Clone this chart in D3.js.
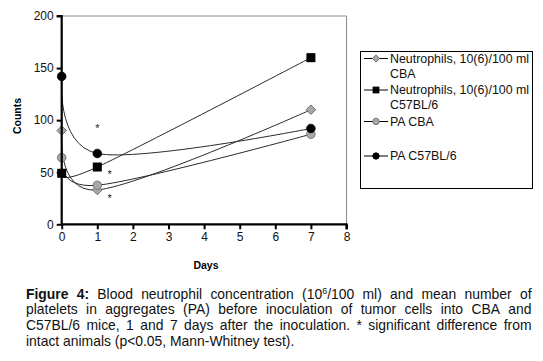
<!DOCTYPE html>
<html><head><meta charset="utf-8">
<script src="https://cdn.jsdelivr.net/npm/d3@7"></script>
<style>body{margin:0;background:#fff}svg{display:block}</style>
</head><body>
<svg id="c" width="543" height="361"></svg>
<script>
const days = [0, 1, 7];
const neutroCBA = [90, 33, 110];
const neutroC57 = [49, 55, 160];
const paCBA = [64, 37.5, 86.5];
const paC57 = [142, 68, 92];
const xTicks = [0, 1, 2, 3, 4, 5, 6, 7, 8];
const yTicks = [0, 50, 100, 150, 200];
const seriesNames = ["Neutrophils, 10(6)/100 ml|CBA", "Neutrophils, 10(6)/100 ml|C57BL/6", "PA CBA", "PA C57BL/6"];
const stars = [[1, 94], [1.35, 50], [1.35, 27.5]];
const xTitle = "Days", yTitle = "Counts";
const captionLines = [
  "**Figure 4:** Blood neutrophil concentration (10^6/100 ml) and mean number of",
  "platelets in aggregates (PA) before inoculation of tumor cells into CBA and",
  "C57BL/6 mice, 1 and 7 days after the inoculation. * significant difference from",
  "intact animals (p<0.05, Mann-Whitney test)."
];

const svg = d3.select("#c");
const FONT = "'Liberation Sans', Arial, sans-serif";
const x = d3.scaleLinear().domain([0, 8]).range([61.7, 346.5]);
const y = d3.scaleLinear().domain([0, 200]).range([224.3, 16]);

svg.append("path").attr("d", `M${x(0)},${y(200)}H${x(8)}V${y(0)}`)
  .attr("fill", "none").attr("stroke", "#8a8a8a").attr("stroke-width", 1);

const styles = [
  {vals: neutroCBA, shape: "diamond", fill: "#a8a8a8", stroke: "#555"},
  {vals: neutroC57, shape: "square", fill: "#000", stroke: "#000"},
  {vals: paCBA, shape: "circle", fill: "#a8a8a8", stroke: "#666"},
  {vals: paC57, shape: "circle", fill: "#000", stroke: "#000"}
];
const line = d3.line().x(d => x(d[0])).y(d => y(d[1])).curve(d3.curveCardinal.tension(0));
styles.forEach(s => {
  svg.append("path").datum(days.map((d, i) => [d, s.vals[i]]))
    .attr("d", line).attr("fill", "none").attr("stroke", "#2a2a2a").attr("stroke-width", 1);
});
function marker(g, shape, fill, stroke, cx, cy, k) {
  k = k || 1;
  if (shape === "circle") g.append("circle").attr("cx", cx).attr("cy", cy).attr("r", 4.3 * k).attr("fill", fill).attr("stroke", stroke).attr("stroke-width", 0.8);
  else if (shape === "square") g.append("rect").attr("x", cx - 4.5 * k).attr("y", cy - 4.5 * k).attr("width", 9 * k).attr("height", 9 * k).attr("fill", fill);
  else { const r = 4.8 * k; g.append("path").attr("d", `M${cx},${cy-r}L${cx+r},${cy}L${cx},${cy+r}L${cx-r},${cy}Z`).attr("fill", fill).attr("stroke", stroke).attr("stroke-width", 0.8); }
}
styles.forEach(s => {
  days.forEach((d, i) => marker(svg, s.shape, s.fill, s.stroke, x(d), y(s.vals[i])));
});

svg.selectAll("text.star").data(stars).join("text").attr("class", "star")
  .attr("x", d => x(d[0])).attr("y", d => y(d[1]) + 6).attr("text-anchor", "middle")
  .attr("font-family", FONT).attr("font-size", 11).attr("fill", "#222").text("*");

const yAxis = svg.append("g").attr("transform", `translate(${x(0)},0)`)
  .call(d3.axisLeft(y).tickValues(yTicks).tickSize(5).tickPadding(3));
const xAxis = svg.append("g").attr("transform", `translate(0,${y(0)})`)
  .call(d3.axisBottom(x).tickValues(xTicks).tickSize(5).tickPadding(3));
[yAxis, xAxis].forEach(a => {
  a.select(".domain").attr("stroke", "#000").attr("stroke-width", 2.2);
  a.selectAll(".tick line").attr("stroke", "#000").attr("stroke-width", 2);
  a.selectAll("text").attr("font-family", FONT).attr("font-size", 12).attr("fill", "#111");
});
yAxis.select(".domain").attr("d", `M-5,${y(200)}H0V${y(0)}`);
xAxis.select(".domain").attr("d", `M${x(0)},0H${x(8)}V5`);

svg.append("text").attr("transform", "translate(21,116) rotate(-90)").attr("text-anchor", "middle")
  .attr("font-family", FONT).attr("font-weight", "bold").attr("font-size", 10.5).text(yTitle);
svg.append("text").attr("x", 206).attr("y", 269).attr("text-anchor", "middle")
  .attr("font-family", FONT).attr("font-weight", "bold").attr("font-size", 10.5).text(xTitle);

const lg = svg.append("g");
lg.append("rect").attr("x", 360.5).attr("y", 51.5).attr("width", 172).attr("height", 137)
  .attr("fill", "#fff").attr("stroke", "#000").attr("stroke-width", 1);
const legY = [58.5, 90, 121.5, 156];
seriesNames.forEach((n, i) => {
  const s = styles[i], yy = legY[i];
  lg.append("line").attr("x1", 364).attr("x2", 388).attr("y1", yy).attr("y2", yy).attr("stroke", "#000");
  marker(lg, s.shape, s.fill, s.stroke, 376, yy, 0.75);
  n.split("|").forEach((t, j) => {
    lg.append("text").attr("x", 390).attr("y", yy + 4.3 + j * 15).attr("font-family", FONT)
      .attr("font-size", 12.4).attr("fill", "#111").text(t);
  });
});

const capLeft = 26, capRight = 531.5, capY0 = 298.5, capLH = 15.7, capFS = 13.9;
function parseWords(str) {
  const out = [];
  let bold = false;
  str.split(" ").forEach(w => {
    const segs = [];
    let rest = w;
    while (rest.length) {
      if (rest.startsWith("**")) { bold = !bold; rest = rest.slice(2); continue; }
      const iB = rest.indexOf("**"), iS = rest.indexOf("^");
      let cut = rest.length;
      if (iB >= 0) cut = Math.min(cut, iB);
      if (iS >= 0) cut = Math.min(cut, iS);
      if (cut > 0) { segs.push({t: rest.slice(0, cut), bold, sup: false}); rest = rest.slice(cut); continue; }
      if (rest[0] === "^") { segs.push({t: rest[1], bold, sup: true}); rest = rest.slice(2); }
    }
    out.push(segs);
  });
  return out;
}
const measure = svg.append("g");
function drawWord(g, segs, x0, yb) {
  const t = g.append("text").attr("x", x0).attr("y", yb).attr("font-family", FONT).attr("font-size", capFS).attr("fill", "#111");
  segs.forEach((s, k) => {
    const ts = t.append("tspan").text(s.t).attr("font-weight", s.bold ? "bold" : null);
    if (s.sup) ts.attr("font-size", capFS * 0.65).attr("dy", -5);
    else if (k > 0 && segs[k - 1].sup) ts.attr("dy", 5);
  });
  return t;
}
const spaceW = (() => { const t = measure.append("text").attr("font-family", FONT).attr("font-size", capFS).text("a a"); const t2 = measure.append("text").attr("font-family", FONT).attr("font-size", capFS).text("aa"); const w = t.node().getComputedTextLength() - t2.node().getComputedTextLength(); t.remove(); t2.remove(); return w; })();
const cg = svg.append("g");
captionLines.forEach((ln, li) => {
  const words = parseWords(ln);
  const widths = words.map(segs => { const t = drawWord(measure, segs, 0, 0); const w = t.node().getComputedTextLength(); t.remove(); return w; });
  const tot = d3.sum(widths);
  const last = li === captionLines.length - 1;
  const gap = last ? spaceW : (capRight - capLeft - tot) / (words.length - 1);
  let xx = capLeft;
  words.forEach((segs, i) => { drawWord(cg, segs, xx, capY0 + li * capLH); xx += widths[i] + gap; });
});
</script>
</body></html>
